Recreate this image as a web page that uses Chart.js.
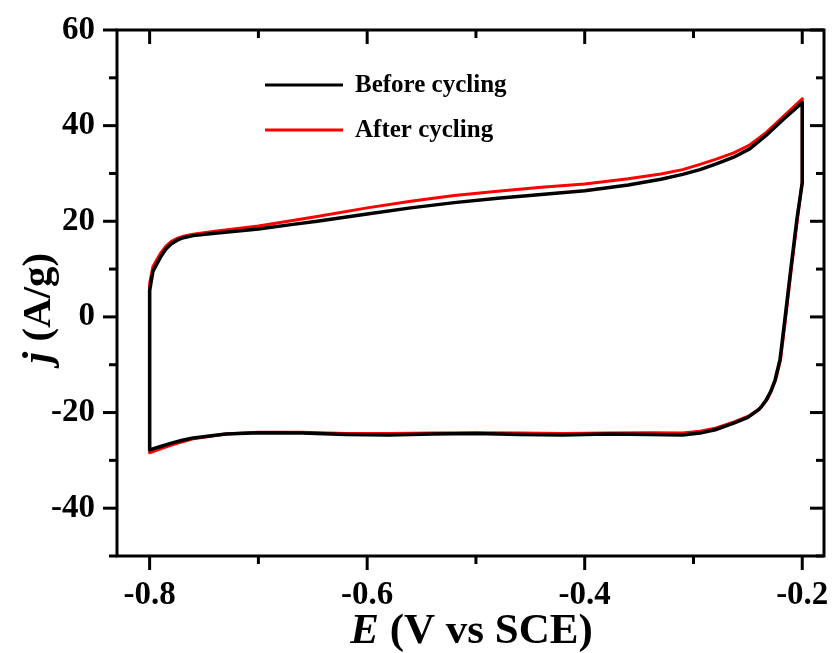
<!DOCTYPE html>
<html>
<head>
<meta charset="utf-8">
<script src="https://cdn.jsdelivr.net/npm/chart.js@4.4.1/dist/chart.umd.min.js"></script>
<style>
    html, body { margin: 0; padding: 0; background: #ffffff; }
    #wrap { width: 833px; height: 653px; }
</style>
</head>
<body>
<div id="wrap"><canvas id="cvChart" width="833" height="653"></canvas></div>
<script>
// CV loops: anodic sweep -0.8 -> -0.2 V, back down the right edge, cathodic sweep to -0.8 V
const beforeE = [
    -0.8, -0.797, -0.79, -0.785, -0.78, -0.775, -0.77, -0.76, -0.74, -0.7, -0.67, -0.646, -0.6, -0.56, -0.52,
    -0.48, -0.44, -0.4, -0.36, -0.33, -0.31, -0.294, -0.279, -0.263, -0.248, -0.233, -0.217, -0.2,
    -0.2, -0.205, -0.211, -0.216, -0.2205, -0.225, -0.229, -0.233, -0.237, -0.24, -0.25, -0.263, -0.28, -0.294,
    -0.31, -0.34, -0.38, -0.42, -0.46, -0.5, -0.54, -0.58, -0.62, -0.66, -0.7, -0.73,
    -0.76, -0.77, -0.78, -0.79, -0.8, -0.8
];
const beforeJ = [
    5.5, 9.5, 12.5, 14.2, 15.3, 16.0, 16.5, 17, 17.5, 18.4, 19.3, 20.0, 21.5, 22.8, 23.9,
    24.8, 25.6, 26.4, 27.6, 28.8, 29.8, 30.8, 32, 33.4, 35.2, 38, 41.4, 44.8,
    28, 20.3, 9.1, -0.6, -9, -13.2, -15.6, -17.3, -18.6, -19.4, -21.0, -22.2, -23.6, -24.3,
    -24.7, -24.6, -24.5, -24.7, -24.6, -24.4, -24.5, -24.7, -24.6, -24.3, -24.2, -24.5,
    -25.3, -25.8, -26.4, -27.1, -27.8, 5.5
];
const afterE = [
    -0.8, -0.797, -0.79, -0.785, -0.78, -0.775, -0.77, -0.76, -0.74, -0.7, -0.67, -0.646, -0.6, -0.56, -0.52,
    -0.48, -0.44, -0.4, -0.36, -0.33, -0.31, -0.294, -0.279, -0.263, -0.248, -0.233, -0.217, -0.2,
    -0.2, -0.2045, -0.2105, -0.2155, -0.22, -0.2245, -0.2285, -0.232, -0.236, -0.2395, -0.249, -0.262, -0.279, -0.294,
    -0.31, -0.34, -0.38, -0.42, -0.46, -0.5, -0.54, -0.58, -0.62, -0.66, -0.7, -0.73,
    -0.76, -0.77, -0.78, -0.79, -0.8, -0.8
];
const afterJ = [
    7, 10.5, 13.3, 14.8, 15.8, 16.4, 16.8, 17.3, 17.9, 19.0, 20.1, 21.0, 22.8, 24.2, 25.4,
    26.3, 27.1, 27.8, 28.9, 29.9, 30.8, 31.9, 33, 34.3, 36, 38.6, 42, 45.6,
    28.5, 20.3, 9.1, -0.6, -9, -13.2, -15.5, -17.2, -18.4, -19.2, -20.7, -21.9, -23.2, -23.9,
    -24.3, -24.2, -24.3, -24.4, -24.3, -24.2, -24.3, -24.4, -24.4, -24.1, -24.1, -24.5,
    -25.5, -26.1, -26.8, -27.6, -28.4, 7
];

const xTicks = [-0.8, -0.6, -0.4, -0.2];
const xMinor = [-0.7, -0.5, -0.3];
const yTicks = [-40, -20, 0, 20, 40, 60];
const yMinor = [-50, -30, -10, 10, 30, 50];

const SERIF = "'Liberation Serif', 'Times New Roman', serif";
const MAJOR = 14;
const MINOR = 8;

const toPoints = (xs, ys) => xs.map((v, i) => ({ x: v, y: ys[i] }));

// box around the plot plus major/minor ticks (out on bottom/left, in on top/right)
const frameTicks = {
    id: 'frameTicks',
    afterDraw(chart) {
        const { ctx, chartArea, scales } = chart;
        const { left, right, top, bottom } = chartArea;
        const tick = (x1, y1, x2, y2) => {
            ctx.beginPath();
            ctx.moveTo(x1, y1);
            ctx.lineTo(x2, y2);
            ctx.stroke();
        };
        ctx.save();
        ctx.strokeStyle = '#000';
        ctx.lineWidth = 3;
        ctx.lineCap = 'butt';
        xTicks.forEach(v => {
            const px = scales.x.getPixelForValue(v);
            tick(px, bottom, px, bottom + MAJOR);
            tick(px, top, px, top + MAJOR);
        });
        xMinor.forEach(v => {
            const px = scales.x.getPixelForValue(v);
            tick(px, bottom, px, bottom + MINOR);
            tick(px, top, px, top + MINOR);
        });
        yTicks.forEach(v => {
            const py = scales.y.getPixelForValue(v);
            tick(left, py, left - MAJOR, py);
            tick(right, py, right - MAJOR, py);
        });
        yMinor.forEach(v => {
            const py = scales.y.getPixelForValue(v);
            tick(left, py, left - MINOR, py);
            tick(right, py, right - MINOR, py);
        });
        ctx.lineJoin = 'miter';
        ctx.strokeRect(left, top, right - left, bottom - top);
        ctx.restore();
    }
};

// axis titles with the italic symbol followed by upright units
const axisTitles = {
    id: 'axisTitles',
    afterDraw(chart) {
        const { ctx, chartArea } = chart;
        const bold = size => `bold ${size}px ${SERIF}`;
        const boldItalic = size => `italic bold ${size}px ${SERIF}`;

        const drawMixed = (sym, rest, size) => {
            ctx.font = boldItalic(size);
            const w1 = ctx.measureText(sym).width;
            ctx.font = bold(size);
            const w2 = ctx.measureText(rest).width;
            const start = -(w1 + w2) / 2;
            ctx.font = boldItalic(size);
            ctx.fillText(sym, start, 0);
            ctx.font = bold(size);
            ctx.fillText(rest, start + w1, 0);
        };

        ctx.save();
        ctx.fillStyle = '#000';
        ctx.textBaseline = 'alphabetic';
        ctx.textAlign = 'left';

        ctx.save();
        ctx.translate((chartArea.left + chartArea.right) / 2 + 1, 643);
        drawMixed('E', ' (V vs SCE)', 43);
        ctx.restore();

        ctx.save();
        ctx.translate(50, 308);
        ctx.rotate(-Math.PI / 2);
        drawMixed('j', ' (A/g)', 41);
        ctx.restore();

        ctx.restore();
    }
};

// legend drawn inside the plot, upper left
const insideLegend = {
    id: 'insideLegend',
    afterDraw(chart) {
        const { ctx } = chart;
        const rows = [
            { ds: chart.data.datasets[0], y: 85 },
            { ds: chart.data.datasets[1], y: 130 }
        ];
        ctx.save();
        ctx.font = `bold 25px ${SERIF}`;
        ctx.textBaseline = 'middle';
        ctx.textAlign = 'left';
        rows.forEach(r => {
            ctx.strokeStyle = r.ds.borderColor;
            ctx.lineWidth = 3;
            ctx.beginPath();
            ctx.moveTo(265, r.y);
            ctx.lineTo(343, r.y);
            ctx.stroke();
            ctx.fillStyle = '#000';
            ctx.fillText(r.ds.label, 355, r.y + 1);
        });
        ctx.restore();
    }
};

const tickFont = { family: SERIF, size: 33, weight: 'bold' };

new Chart(document.getElementById('cvChart').getContext('2d'), {
    type: 'scatter',
    data: {
        datasets: [
            {
                label: 'Before cycling',
                data: toPoints(beforeE, beforeJ),
                showLine: true,
                borderColor: '#000000',
                borderWidth: 3.5,
                pointRadius: 0,
                tension: 0,
                borderJoinStyle: 'round',
                borderCapStyle: 'round'
            },
            {
                label: 'After cycling',
                data: toPoints(afterE, afterJ),
                showLine: true,
                borderColor: '#ff0000',
                borderWidth: 3,
                pointRadius: 0,
                tension: 0,
                borderJoinStyle: 'round',
                borderCapStyle: 'round'
            }
        ]
    },
    options: {
        responsive: false,
        animation: false,
        layout: { padding: { top: 30, right: 9, left: 0, bottom: 0 } },
        scales: {
            x: {
                type: 'linear',
                min: -0.83,
                max: -0.18,
                afterBuildTicks: scale => { scale.ticks = xTicks.map(v => ({ value: v })); },
                afterFit: scale => {
                    scale.height = 97;
                    scale.paddingLeft = 0;
                    scale.paddingRight = 0;
                },
                grid: { display: false, drawTicks: false },
                border: { display: false },
                ticks: {
                    color: '#000',
                    font: tickFont,
                    padding: MAJOR + 6,
                    maxRotation: 0,
                    callback: v => v.toFixed(1)
                }
            },
            y: {
                type: 'linear',
                min: -50,
                max: 60,
                afterBuildTicks: scale => { scale.ticks = yTicks.map(v => ({ value: v })); },
                afterFit: scale => {
                    scale.width = 117;
                    scale.paddingTop = 0;
                    scale.paddingBottom = 0;
                },
                grid: { display: false, drawTicks: false },
                border: { display: false },
                ticks: {
                    color: '#000',
                    font: tickFont,
                    padding: MAJOR + 8,
                    callback: v => String(v)
                }
            }
        },
        plugins: {
            legend: { display: false },
            tooltip: { enabled: false }
        }
    },
    plugins: [frameTicks, axisTitles, insideLegend]
});
</script>
</body>
</html>
